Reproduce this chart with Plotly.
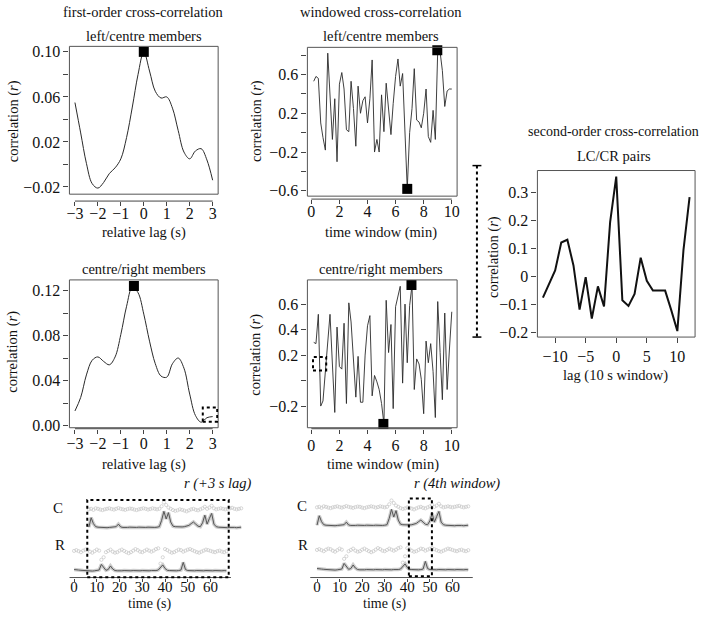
import plotly.graph_objects as go

W, H = 706, 619
def px(x): return x / W
def py(y): return 1 - y / H

FONT = "Liberation Serif"
LINE = "#2a2a2a"
FRAME = "#555555"
MINUS = "\u2212"

# ---------------- data ----------------
# first-order cross-correlation (relative lag in s)
lag_first = [-3.0, -2.75, -2.5, -2.25, -2.0, -1.75, -1.5, -1.25, -1.0, -0.75, -0.5, -0.25,
             0.0, 0.25, 0.5, 0.75, 1.0, 1.25, 1.5, 1.75, 2.0, 2.25, 2.5, 2.75, 3.0]
r_first_lc = [0.055, 0.028, 0.001, -0.017, -0.021, -0.016, -0.008, -0.003, 0.005, 0.024, 0.051, 0.080,
              0.100, 0.083, 0.065, 0.059, 0.060, 0.050, 0.030, 0.011, 0.005, 0.012, 0.014, 0.004, -0.014]
r_first_cr = [0.013, 0.025, 0.045, 0.058, 0.061, 0.057, 0.054, 0.061, 0.081, 0.106, 0.123, 0.118,
              0.099, 0.075, 0.055, 0.044, 0.043, 0.055, 0.060, 0.051, 0.028, 0.009, 0.003, 0.007, 0.008]
peak_lc_lag, peak_lc_r = [0.0], [0.100]
peak_cr_lag, peak_cr_r = [-0.43], [0.124]

# windowed cross-correlation (time window in min)
win_t = [0.17, 0.33, 0.5, 0.67, 0.83, 1.0, 1.17, 1.33, 1.5, 1.67, 1.83, 2.0,
         2.17, 2.33, 2.5, 2.67, 2.83, 3.0, 3.17, 3.33, 3.5, 3.67, 3.83, 4.0,
         4.17, 4.33, 4.5, 4.67, 4.83, 5.0, 5.17, 5.33, 5.5, 5.67, 5.83, 6.0,
         6.17, 6.33, 6.5, 6.67, 6.83, 7.0, 7.17, 7.33, 7.5, 7.67, 7.83, 8.0,
         8.17, 8.33, 8.5, 8.67, 8.83, 9.0, 9.17, 9.33, 9.5, 9.67, 9.83, 10.0]
r_win_lc = [0.53, 0.58, 0.56, 0.10, -0.05, -0.18, 0.82, 0.38, -0.07, 0.35, -0.30, 0.50,
            0.62, 0.45, 0.03, 0.01, 0.53, 0.25, -0.14, 0.48, 0.20, 0.33, 0.37, 0.10,
            0.35, 0.75, -0.20, -0.07, -0.20, 0.39, 0.01, 0.51, 0.20, -0.02, 0.30, 0.58,
            0.76, 0.48, 0.61, 0.00, -0.58, 0.00, 0.25, 0.66, 0.13, 0.11, 0.05, 0.20,
            0.45, -0.04, -0.10, 0.23, -0.07, 0.85, 0.83, 0.64, 0.27, 0.43, 0.45, 0.45]
r_win_cr = [0.30, 0.29, 0.52, -0.20, -0.16, 0.07, 0.30, 0.52, 0.13, -0.25, 0.42, 0.11,
            0.09, 0.45, -0.18, 0.61, 0.46, 0.13, -0.13, 0.19, -0.17, -0.17, 0.20, 0.43,
            0.51, -0.12, 0.04, -0.01, -0.07, -0.18, -0.34, 0.63, 0.22, 0.44, -0.22, 0.58,
            0.66, 0.74, -0.02, 0.60, 0.14, 0.59, 0.75, -0.07, 0.17, 0.13, 0.01, -0.26,
            0.31, 0.14, 0.29, 0.07, -0.29, 0.62, 0.22, -0.15, 0.53, -0.07, 0.24, 0.54]
ext_lc_t, ext_lc_r = [6.83, 8.97], [-0.58, 0.85]
ext_cr_t, ext_cr_r = [5.13, 7.13], [-0.34, 0.75]

# second-order cross-correlation (lag in 10 s windows)
lag_second = [-12, -11, -10, -9, -8, -7, -6, -5, -4, -3, -2, -1, 0,
              1, 2, 3, 4, 5, 6, 7, 8, 9, 10, 11, 12]
r_second = [-0.075, -0.025, 0.022, 0.122, 0.132, 0.040, -0.118, -0.002, -0.150, -0.035, -0.107, 0.195, 0.358,
            -0.085, -0.105, -0.062, 0.068, -0.015, -0.050, -0.050, -0.050, -0.120, -0.195, 0.095, 0.285]

# raw time series (s) for centre (C) and right (R) members
track_t = list(range(68))
c_signal = [0.08, 0.45, 0.22, 0.10, 0.08, 0.07, 0.08, 0.07, 0.06, 0.07, 0.08, 0.07,
            0.10, 0.20, 0.09, 0.07, 0.06, 0.07, 0.08, 0.07, 0.06, 0.07, 0.08, 0.07,
            0.06, 0.07, 0.08, 0.07, 0.06, 0.07, 0.08, 0.10, 0.35, 0.70, 0.40, 0.65,
            0.28, 0.12, 0.10, 0.09, 0.08, 0.09, 0.10, 0.12, 0.15, 0.22, 0.28, 0.20,
            0.12, 0.10, 0.25, 0.55, 0.20, 0.42, 0.62, 0.20, 0.10, 0.08, 0.07, 0.08,
            0.07, 0.06, 0.07, 0.08, 0.07, 0.06, 0.07, 0.08]
c_upper = [0.78, 0.80, 0.76, 0.82, 0.80, 0.77, 0.75, 0.78, 0.80, 0.82, 0.79, 0.77,
           0.80, 0.83, 0.80, 0.78, 0.76, 0.79, 0.81, 0.80, 0.77, 0.75, 0.78, 0.80,
           0.82, 0.80, 0.77, 0.79, 0.82, 0.80, 0.78, 0.80, 0.90, 1.05, 0.95, 0.85,
           0.80, 0.75, 0.72, 0.74, 0.78, 0.76, 0.73, 0.70, 0.74, 0.78, 0.80, 0.76,
           0.74, 0.78, 0.82, 0.88, 0.80, 0.85, 0.92, 0.82, 0.78, 0.80, 0.82, 0.80,
           0.78, 0.80, 0.82, 0.84, 0.80, 0.78, 0.80, 0.82]
r_signal = [0.12, 0.12, 0.10, 0.09, 0.08, 0.07, 0.08, 0.07, 0.06, 0.07, 0.08, 0.10,
            0.32, 0.18, 0.09, 0.12, 0.26, 0.14, 0.08, 0.07, 0.06, 0.07, 0.08, 0.07,
            0.06, 0.07, 0.08, 0.07, 0.06, 0.07, 0.08, 0.07, 0.06, 0.07, 0.08, 0.07,
            0.08, 0.10, 0.22, 0.30, 0.16, 0.09, 0.08, 0.07, 0.06, 0.07, 0.08, 0.10,
            0.40, 0.12, 0.08, 0.07, 0.06, 0.07, 0.08, 0.07, 0.06, 0.07, 0.08, 0.07,
            0.06, 0.07, 0.08, 0.07, 0.06, 0.07, 0.08, 0.07]
r_upper = [0.85, 0.88, 0.84, 0.80, 0.86, 0.90, 0.88, 0.82, 0.78, 0.84, 0.90, 0.86,
           0.50, 0.60, 0.80, 0.85, 0.90, 0.82, 0.78, 0.80, 0.86, 0.90, 0.85, 0.80,
           0.76, 0.80, 0.86, 0.92, 0.88, 0.82, 0.80, 0.85, 0.90, 0.86, 0.82, 0.86,
           0.92, 0.95, 0.35, 0.60, 0.92, 0.88, 0.82, 0.78, 0.80, 0.85, 0.90, 0.88,
           0.82, 0.86, 0.90, 0.92, 0.88, 0.84, 0.80, 0.78, 0.82, 0.86, 0.90, 0.88,
           0.85, 0.82, 0.80, 0.84, 0.86, 0.82, 0.80, 0.84]
c_lag_F, c_lag_G = 6.5, 0.0          # display offset of the C series in each panel
time_ticks = [0, 10, 20, 30, 40, 50, 60]

# tick definitions
lag_ticks = [-3, -2, -1, 0, 1, 2, 3]
lag_ticktext = [MINUS + "3", MINUS + "2", MINUS + "1", "0", "1", "2", "3"]
a_yticks = [-0.02, 0.0, 0.02, 0.04, 0.06, 0.08, 0.10]
a_ytext = [MINUS + "0.02", "", "0.02", "", "0.06", "", "0.10"]
b_yticks = [0.0, 0.02, 0.04, 0.06, 0.08, 0.10, 0.12]
b_ytext = ["0.00", "", "0.04", "", "0.08", "", "0.12"]
win_ticks = [0, 2, 4, 6, 8, 10]
c_yticks = [-0.6, -0.4, -0.2, 0.0, 0.2, 0.4, 0.6, 0.8]
c_ytext = [MINUS + "0.6", "", MINUS + "0.2", "", "0.2", "", "0.6", ""]
d_yticks = [-0.2, 0.0, 0.2, 0.4, 0.6]
d_ytext = [MINUS + "0.2", "", "0.2", "0.4", "0.6"]
e_xticks = [-10, -5, 0, 5, 10]
e_xtext = [MINUS + "10", MINUS + "5", "0", "5", "10"]
e_yticks = [-0.2, -0.1, 0.0, 0.1, 0.2, 0.3]
e_ytext = [MINUS + "0.2", MINUS + "0.1", "0", "0.1", "0.2", "0.3"]

# ---------------- figure ----------------
fig = go.Figure()

def line_trace(x, y, xa, ya, width=1.0, color=LINE, shape="linear"):
    fig.add_trace(go.Scatter(x=x, y=y, mode="lines", xaxis=xa, yaxis=ya,
                             line=dict(color=color, width=width, shape=shape), hoverinfo="skip"))

def marker_trace(x, y, xa, ya):
    fig.add_trace(go.Scatter(x=x, y=y, mode="markers", xaxis=xa, yaxis=ya, cliponaxis=False,
                             marker=dict(symbol="square", size=10, color="black"), hoverinfo="skip"))

line_trace(lag_first, r_first_lc, "x", "y", shape="spline")
marker_trace(peak_lc_lag, peak_lc_r, "x", "y")
line_trace(lag_first, r_first_cr, "x2", "y2", shape="spline")
marker_trace(peak_cr_lag, peak_cr_r, "x2", "y2")
line_trace(win_t, r_win_lc, "x3", "y3", 0.9)
marker_trace(ext_lc_t, ext_lc_r, "x3", "y3")
line_trace(win_t, r_win_cr, "x4", "y4", 0.9)
marker_trace(ext_cr_t, ext_cr_r, "x4", "y4")
line_trace(lag_second, r_second, "x5", "y5", 2.0, "#111111")

# raw tracks
def track(xa, ya, shift, signal, upper):
    xs = [t + shift for t in track_t]
    fig.add_trace(go.Scatter(x=xs, y=upper, mode="markers", xaxis=xa, yaxis=ya,
                             marker=dict(symbol="circle-open", size=3.2, color="#c6c6c6",
                                         line=dict(width=0.7)), hoverinfo="skip"))
    fig.add_trace(go.Scatter(x=xs, y=signal, mode="lines", xaxis=xa, yaxis=ya,
                             line=dict(color="#cdcdcd", width=3.5), hoverinfo="skip"))
    fig.add_trace(go.Scatter(x=xs, y=signal, mode="lines", xaxis=xa, yaxis=ya,
                             line=dict(color="#555555", width=1), hoverinfo="skip"))

track("x6", "y6", c_lag_F, c_signal, c_upper)
track("x6", "y7", 0.0, r_signal, r_upper)
track("x7", "y8", c_lag_G, c_signal, c_upper)
track("x7", "y9", 0.0, r_signal, r_upper)

tickfont = dict(family=FONT, size=16, color="#111")
common_x = dict(showgrid=False, zeroline=False, showline=False, ticks="outside", ticklen=4,
                tickcolor="#444", tickwidth=1, tickfont=tickfont, fixedrange=True)
common_y = dict(showgrid=False, zeroline=False, showline=False, ticks="outside", ticklen=5,
                tickcolor="#444", tickwidth=1, tickfont=tickfont, fixedrange=True)

def frame(xl, xr, yt, yb):
    return [px(xl), px(xr)], [py(yb), py(yt)]

layout_axes = {}
# panel A
xd, yd = frame(67, 217, 44, 194)
layout_axes["xaxis"] = dict(common_x, domain=xd, range=[-3.24, 3.24], tickvals=lag_ticks,
                            ticktext=lag_ticktext, anchor="free", position=py(201),
                            ticklabelstandoff=-6)
layout_axes["yaxis"] = dict(common_y, domain=yd, range=[-0.0264, 0.1049], tickvals=a_yticks,
                            ticktext=a_ytext, anchor="x")
# panel B
xd, yd = frame(67, 217, 281, 431)
layout_axes["xaxis2"] = dict(common_x, domain=xd, range=[-3.24, 3.24], tickvals=lag_ticks,
                             ticktext=lag_ticktext, anchor="free", position=py(432),
                             ticklabelstandoff=-4)
layout_axes["yaxis2"] = dict(common_y, domain=yd, range=[-0.0019, 0.1294], tickvals=b_yticks,
                             ticktext=b_ytext, anchor="x2")
# panel C
xd, yd = frame(307, 458, 45, 196)
layout_axes["xaxis3"] = dict(common_x, domain=xd, range=[-0.28, 10.38], tickvals=win_ticks,
                             anchor="free", position=py(199), ticklabelstandoff=-6)
layout_axes["yaxis3"] = dict(common_y, domain=yd, range=[-0.655, 0.88], tickvals=c_yticks,
                             ticktext=c_ytext, anchor="x3")
# panel D
xd, yd = frame(307, 458, 281, 431)
layout_axes["xaxis4"] = dict(common_x, domain=xd, range=[-0.28, 10.38], tickvals=win_ticks,
                             anchor="free", position=py(432), ticklabelstandoff=-2)
layout_axes["yaxis4"] = dict(common_y, domain=yd, range=[-0.37, 0.79], tickvals=d_yticks,
                             ticktext=d_ytext, anchor="x4")
# panel E
xd, yd = frame(539, 698, 170, 339)
layout_axes["xaxis5"] = dict(common_x, domain=xd, range=[-12.9, 12.9], tickvals=e_xticks,
                             ticktext=e_xtext, anchor="y5", ticklen=5)
layout_axes["yaxis5"] = dict(common_y, domain=yd, range=[-0.2165, 0.38], tickvals=e_yticks,
                             ticktext=e_ytext, anchor="x5")
# panels F and G (raw tracks)
small_tick = dict(family=FONT, size=15, color="#111")
layout_axes["xaxis6"] = dict(common_x, domain=[px(60), px(245)], range=[-5.1, 75.57],
                             tickvals=time_ticks, anchor="free", position=py(583), ticklen=3,
                             ticklabelstandoff=-8, tickfont=small_tick)
layout_axes["xaxis7"] = dict(common_x, domain=[px(305), px(490)], range=[-5.14, 76.12],
                             tickvals=time_ticks, anchor="free", position=py(583), ticklen=3,
                             ticklabelstandoff=-8, tickfont=small_tick)
trk = dict(visible=False, range=[-0.155, 1.197], fixedrange=True)
layout_axes["yaxis6"] = dict(trk, domain=[py(538), py(503)], anchor="x6")
layout_axes["yaxis7"] = dict(trk, domain=[py(582), py(547)], anchor="x6")
layout_axes["yaxis8"] = dict(trk, domain=[py(536), py(501)], anchor="x7")
layout_axes["yaxis9"] = dict(trk, domain=[py(581), py(546)], anchor="x7")

shapes = []
for i in ["", "2", "3", "4", "5"]:
    shapes.append(dict(type="rect", xref=f"x{i} domain", yref=f"y{i} domain", x0=0, x1=1, y0=0, y1=1,
                       line=dict(color=FRAME, width=1)))
# detached x-axis lines
ax = dict(color="#444", width=1)
shapes.append(dict(type="line", xref="x", yref="paper", x0=-3, x1=3, y0=py(201), y1=py(201), line=ax))
shapes.append(dict(type="line", xref="x2", yref="paper", x0=-3, x1=3, y0=py(432), y1=py(432), line=ax))
shapes.append(dict(type="line", xref="x3", yref="paper", x0=0, x1=10, y0=py(199), y1=py(199), line=ax))
shapes.append(dict(type="line", xref="x4", yref="paper", x0=0, x1=10, y0=py(432), y1=py(432), line=ax))
shapes.append(dict(type="line", xref="x6", yref="paper", x0=-2, x1=69, y0=py(583), y1=py(583),
                   line=dict(color="#555", width=1)))
shapes.append(dict(type="line", xref="x7", yref="paper", x0=-3, x1=69, y0=py(583), y1=py(583),
                   line=dict(color="#555", width=1)))
# dotted highlight boxes
dot = dict(color="black", width=2, dash="dot")
shapes.append(dict(type="rect", xref="x2", yref="y2", x0=2.57, x1=3.2, y0=0.0035, y1=0.016, line=dot))
shapes.append(dict(type="rect", xref="x4", yref="y4", x0=0.12, x1=1.06, y0=0.08, y1=0.185, line=dot))
shapes.append(dict(type="rect", xref="x6", yref="paper", x0=5.8, x1=68.0, y0=py(582.7), y1=py(504.3), line=dot))
shapes.append(dict(type="rect", xref="x7", yref="paper", x0=40.7, x1=50.9, y0=py(581.7), y1=py(502.7), line=dot))
# bracket linking windowed and second-order panels
shapes.append(dict(type="line", xref="paper", yref="paper", x0=px(478), x1=px(478), y0=py(165), y1=py(339),
                   line=dict(color="black", width=2, dash="dot")))
for yy in (165, 339):
    shapes.append(dict(type="line", xref="paper", yref="paper", x0=px(473.5), x1=px(482.5), y0=py(yy), y1=py(yy),
                       line=dict(color="black", width=1.5)))

ann = []
def text(x, y, s, size=14.5, angle=0, xanchor="center", yanchor="middle"):
    ann.append(dict(x=px(x), y=py(y), xref="paper", yref="paper", text=s, showarrow=False,
                    xanchor=xanchor, yanchor=yanchor, textangle=angle, borderpad=0,
                    font=dict(family=FONT, size=size, color="#111")))

text(142, 9, "first-order cross-correlation")
text(381, 9, "windowed cross-correlation")
text(142, 33, "left/centre members")
text(381, 33, "left/centre members")
text(142, 270, "centre/right members")
text(381, 270, "centre/right members")
text(142, 233, "relative lag (s)")
text(142, 468, "relative lag (s)")
text(381, 233, "time window (min)")
text(383, 468, "time window (min)")
for (x, y) in [(10, 120), (10, 354), (255, 120), (255, 357), (494, 258)]:
    text(x, y, "correlation (<i>r</i>)", angle=-90)
text(616, 130, "second-order cross-correlation", 14)
text(616, 155, "LC/CR pairs")
text(618, 378, "lag (10 s window)")
text(217, 488, "<i>r (+3 s lag)</i>")
text(458, 488, "<i>r (4th window)</i>")
text(55, 512, "C", 15)
text(57, 550, "R", 15)
text(302, 510, "C", 15)
text(303, 550, "R", 15)
text(148, 610, "time (s)", 14)
text(385, 610, "time (s)", 14)

fig.update_layout(width=W, height=H, autosize=False, margin=dict(l=0, r=0, t=0, b=0),
                  paper_bgcolor="white", plot_bgcolor="white", showlegend=False,
                  font=dict(family=FONT, size=14, color="#111"),
                  shapes=shapes, annotations=ann, **layout_axes)

fig.write_html("out.html", config={"displayModeBar": False},
               post_script="document.body.style.margin='0px';document.body.style.overflow='hidden';")
